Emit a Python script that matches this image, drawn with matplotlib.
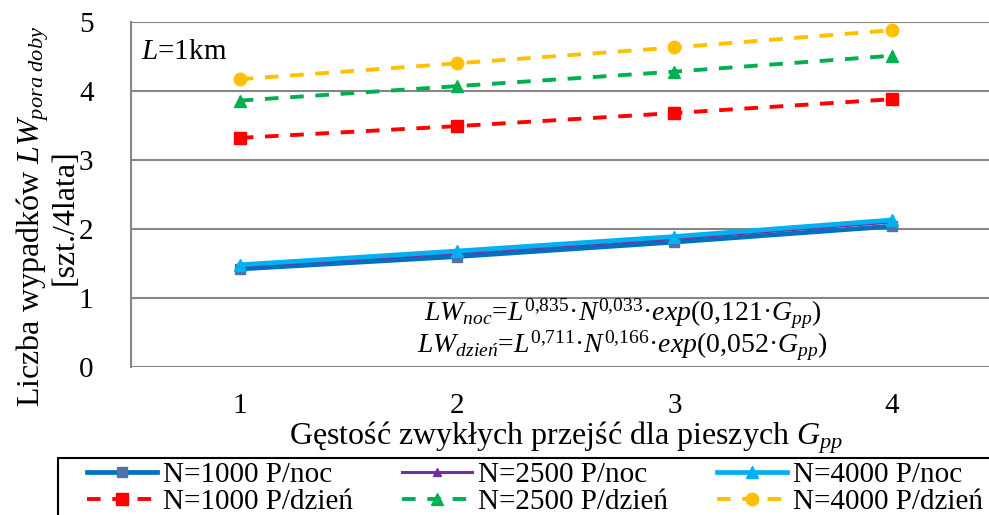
import numpy as np
import matplotlib.pyplot as plt
from matplotlib.patches import Rectangle

plt.rcParams['font.family'] = ['Liberation Serif', 'DejaVu Serif']
plt.rcParams['mathtext.fontset'] = 'custom'
plt.rcParams['mathtext.rm'] = 'Liberation Serif'
plt.rcParams['mathtext.it'] = 'Liberation Serif:italic'

# gestosc przejsc dla pieszych
g_pp = [1, 2, 3, 4]

# noc
lw_noc_1000 = [1.42, 1.60, 1.81, 2.04]
lw_noc_2500 = [1.46, 1.65, 1.86, 2.10]
lw_noc_4000 = [1.48, 1.68, 1.89, 2.13]
# dzien
lw_dzien_1000 = [3.32, 3.49, 3.68, 3.88]
lw_dzien_2500 = [3.86, 4.07, 4.28, 4.51]
lw_dzien_4000 = [4.17, 4.40, 4.63, 4.88]

fig = plt.figure(figsize=(9.89, 5.15), dpi=100)
ax = fig.add_axes([0.1325, 0.2874, 0.879, 0.670])

kreska = (3.5, 3)
ax.plot(g_pp, lw_noc_1000, color='#0070C0', lw=3.4, marker='s', ms=7.5,
        mfc='#4F73A8', mec='#4F73A8', label='N=1000 P/noc', zorder=3)
ax.plot(g_pp, lw_dzien_1000, color='#FF0000', lw=2.8, dashes=kreska, marker='s', ms=8.5,
        mfc='#FF0000', mec='#FF0000', label='N=1000 P/dzień', zorder=6)
ax.plot(g_pp, lw_noc_2500, color='#7030A0', lw=2.2, marker='^', ms=6,
        mfc='#7030A0', mec='#7030A0', label='N=2500 P/noc', zorder=4)
ax.plot(g_pp, lw_dzien_2500, color='#00B050', lw=2.8, dashes=kreska, marker='^', ms=9,
        mfc='#00B050', mec='#00B050', label='N=2500 P/dzień', zorder=6)
ax.plot(g_pp, lw_noc_4000, color='#00B0F0', lw=3.4, marker='^', ms=8.5,
        mfc='#00B0F0', mec='#00B0F0', label='N=4000 P/noc', zorder=5)
ax.plot(g_pp, lw_dzien_4000, color='#FFC000', lw=2.8, dashes=kreska, marker='o', ms=9,
        mfc='#FFC000', mec='#FFC000', label='N=4000 P/dzień', zorder=6)

ax.set_xlim(0.5, 4.5)
ax.set_ylim(0, 5)
ax.set_xticks(g_pp)
ax.set_yticks(range(6))
ax.grid(axis='y', color='#868686', lw=1.5)
ax.set_axisbelow(True)
for s in ['top', 'right', 'bottom']:
    ax.spines[s].set_visible(False)
ax.spines['left'].set_color('#868686')
ax.spines['left'].set_linewidth(1.5)
ax.tick_params(length=0, labelsize=21)
ax.tick_params(axis='x', pad=19)
ax.tick_params(axis='y', pad=27)

ax.set_xlabel(r'Gęstość zwykłych przejść dla pieszych $G_{pp}$', fontsize=23, labelpad=0)
ax.set_ylabel('Liczba wypadków $LW_{pora\\ doby}$\n[szt./4lata]', fontsize=23,
              linespacing=1.0)
ax.yaxis.set_label_coords(-0.059, 0.435)

ax.text(0.011, 0.95, '$L$=1km', transform=ax.transAxes, fontsize=21, va='top')

# wzory modeli
wzory = ('$LW_{noc}$=$L^{0{,}835}$·$N^{0{,}033}$·$exp($0,121·$G_{pp})$\n'
         '$LW_{dzień}$=$L^{0{,}711}$·$N^{0{,}166}$·$exp($0,052·$G_{pp})$')
ax.text(0.565, 0.107, wzory, transform=ax.transAxes, fontsize=20, ha='center',
        va='center', multialignment='center', linespacing=0.9)

# legenda bez ramki, ramka rysowana osobno
leg = fig.legend(loc='upper left', bbox_to_anchor=(87 / 989, 1 - 462 / 515), ncol=3,
                 fontsize=21, frameon=False, borderpad=0,
                 handlelength=2.4, handletextpad=0.2, columnspacing=1.68,
                 labelspacing=0.0, borderaxespad=0)
fig.add_artist(Rectangle((58 / 989, -0.1), 1.0, 0.1 + (515 - 458) / 515,
                         transform=fig.transFigure, fill=False, ec='black', lw=1.5))

fig.savefig('out.png', dpi=100)
